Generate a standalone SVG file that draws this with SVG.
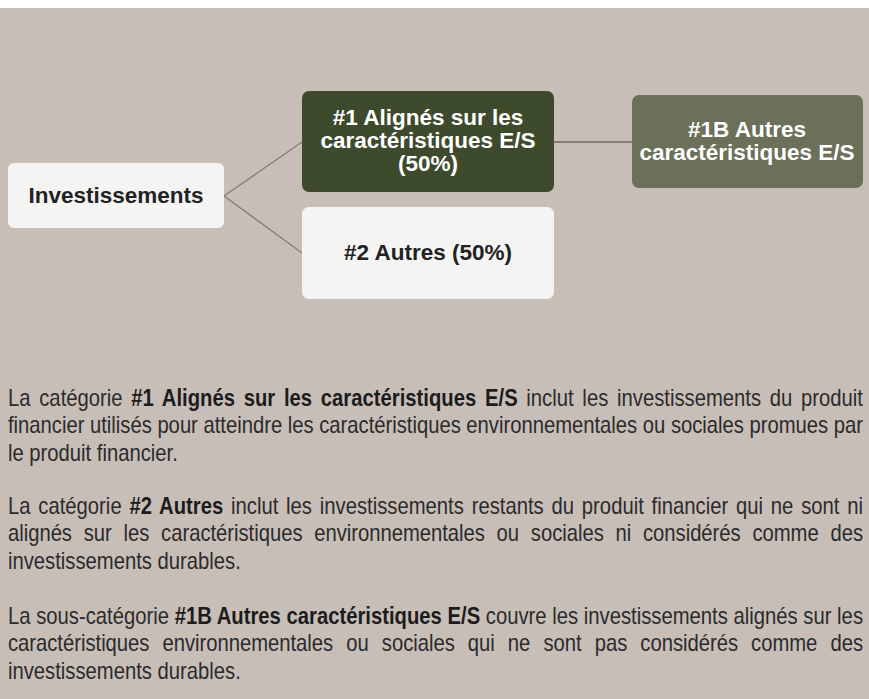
<svg xmlns="http://www.w3.org/2000/svg" width="869" height="699" viewBox="0 0 869 699">
<style>
.bx-light{fill:#f4f4f2}
.bx-dark{fill:#3d4a2b}
.bx-mid{fill:#6b705a}
.lbl{font-family:"Liberation Sans",Arial,sans-serif;font-weight:bold;font-size:22.5px;text-anchor:middle}
.lbl-dark{fill:#222222}
.lbl-light{fill:#ffffff}
.conn{stroke:#8a7c73;stroke-width:1.3;fill:none}
.body{font-family:"Liberation Sans",Arial,sans-serif;font-size:23px;fill:#2b2b2b}
.b{font-weight:bold;fill:#1c1c1c}
</style>
<rect x="0" y="0" width="869" height="699" fill="#c8beb8"/>
<rect x="0" y="0" width="869" height="8" fill="#ffffff"/>
<g id="connectors">
<line class="conn" x1="224" y1="196" x2="302" y2="142"/>
<line class="conn" x1="224" y1="196" x2="302" y2="253"/>
<line class="conn" x1="554" y1="142" x2="632" y2="142" style="stroke-width:2"/>
</g>
<g id="node-investissements">
<rect class="bx-light" x="8" y="163" width="216" height="65" rx="6"/>
<text class="lbl lbl-dark" x="116" y="203">Investissements</text>
</g>
<g id="node-1">
<rect class="bx-dark" x="302" y="91" width="252" height="101" rx="7"/>
<text class="lbl lbl-light" x="428" y="125">#1 Alignés sur les</text>
<text class="lbl lbl-light" x="428" y="148">caractéristiques E/S</text>
<text class="lbl lbl-light" x="428" y="171">(50%)</text>
</g>
<g id="node-2">
<rect class="bx-light" x="302" y="207" width="252" height="92" rx="7"/>
<text class="lbl lbl-dark" x="428" y="260">#2 Autres (50%)</text>
</g>
<g id="node-1b">
<rect class="bx-mid" x="632" y="95" width="231" height="93" rx="7"/>
<text class="lbl lbl-light" x="747" y="137">#1B Autres</text>
<text class="lbl lbl-light" x="747" y="160">caractéristiques E/S</text>
</g>
<g id="legend" transform="scale(0.88,1)">
<text class="body" x="9.09" y="406" style="word-spacing:3.5px" textLength="971.6" lengthAdjust="spacing">La catégorie <tspan class="b">#1 Alignés sur les caractéristiques E/S</tspan> inclut les investissements du produit</text>
<text class="body" x="9.09" y="433.5" textLength="971.6" lengthAdjust="spacing">financier utilisés pour atteindre les caractéristiques environnementales ou sociales promues par</text>
<text class="body" x="9.09" y="461">le produit financier.</text>
<text class="body" x="9.09" y="514" style="word-spacing:2.5px" textLength="971.6" lengthAdjust="spacing">La catégorie <tspan class="b">#2 Autres</tspan> inclut les investissements restants du produit financier qui ne sont ni</text>
<text class="body" x="9.09" y="541.5" style="word-spacing:7px" textLength="971.6" lengthAdjust="spacing">alignés sur les caractéristiques environnementales ou sociales ni considérés comme des</text>
<text class="body" x="9.09" y="569">investissements durables.</text>
<text class="body" x="9.09" y="624" textLength="971.6" lengthAdjust="spacing">La sous-catégorie <tspan class="b">#1B Autres caractéristiques E/S</tspan> couvre les investissements alignés sur les</text>
<text class="body" x="9.09" y="651.5" style="word-spacing:8.5px" textLength="971.6" lengthAdjust="spacing">caractéristiques environnementales ou sociales qui ne sont pas considérés comme des</text>
<text class="body" x="9.09" y="679">investissements durables.</text>
</g>
</svg>
